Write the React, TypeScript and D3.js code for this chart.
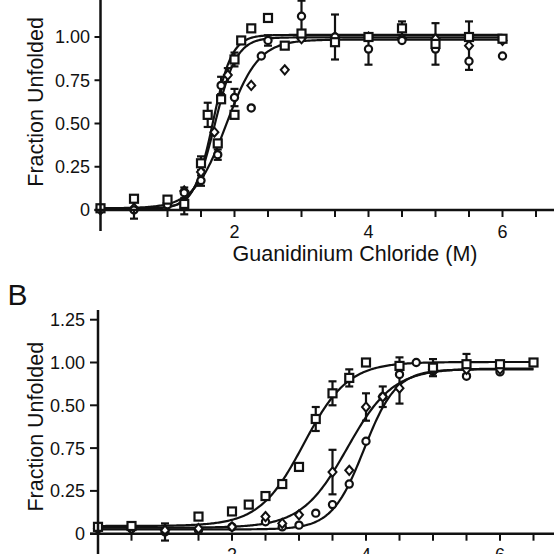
import React, { useEffect } from "react";
import * as d3 from "d3";

type Pt = [number, number, number?];

// ---------- Panel A (top) data ----------
const topSquares: Pt[] = [
  [0, 0.01], [0.5, 0.065], [1.0, 0.06], [1.25, 0.035, 0.06], [1.5, 0.27, 0.04],
  [1.6, 0.55, 0.07], [1.75, 0.385], [1.8, 0.64], [2.0, 0.55], [2.0, 0.87, 0.04],
  [2.1, 0.98], [2.25, 1.05], [2.5, 1.11], [2.75, 0.95], [3.0, 1.02],
  [3.5, 0.97], [4.0, 1.0], [4.5, 1.05, 0.04], [5.0, 0.96, 0.12], [5.5, 1.0], [6.0, 0.99],
];
const topCircles: Pt[] = [
  [0, 0.01], [0.5, 0.0, 0.05], [1.0, 0.03], [1.25, 0.1, 0.03], [1.5, 0.17, 0.03],
  [1.75, 0.32, 0.03], [1.8, 0.72, 0.05], [2.0, 0.65, 0.05], [2.25, 0.59], [2.4, 0.89],
  [2.5, 0.98, 0.03], [3.0, 1.12, 0.09], [3.5, 1.0, 0.13], [4.0, 0.93, 0.09], [4.5, 0.98],
  [5.0, 0.93], [5.5, 0.86], [6.0, 0.89],
];
const topDiamonds: Pt[] = [
  [0, 0.0], [0.5, 0.01], [1.0, 0.04], [1.25, 0.11], [1.5, 0.22], [1.7, 0.45],
  [1.9, 0.78, 0.04], [2.25, 0.72], [2.75, 0.81], [3.0, 0.99], [3.5, 1.0],
  [4.0, 1.0], [4.5, 0.99], [5.0, 0.99], [5.5, 0.95, 0.14], [6.0, 0.98],
];
// fitted curves: [bottom, top, midpoint, slope, xEnd]
const topFits: [number, number, number, number, number][] = [
  [0.01, 1.012, 1.68, 0.14, 6.0],
  [0.005, 0.998, 1.71, 0.16, 6.0],
  [0.01, 0.985, 1.88, 0.24, 6.0],
];

// ---------- Panel B data ----------
const bSquares: Pt[] = [
  [0, 0.04], [0.5, 0.045], [1.5, 0.1], [2.0, 0.13], [2.25, 0.17], [2.5, 0.22],
  [2.75, 0.29], [3.0, 0.39], [3.25, 0.67, 0.07], [3.5, 0.82, 0.07], [3.75, 0.91, 0.05],
  [4.0, 1.0], [4.5, 0.98, 0.05], [5.0, 0.97, 0.05], [5.5, 0.99, 0.06], [6.0, 0.99], [6.5, 1.0],
];
const bDiamonds: Pt[] = [
  [0, 0.03], [0.5, 0.03], [1.0, 0.02], [1.5, 0.03], [2.0, 0.04], [2.5, 0.1],
  [2.75, 0.06], [3.0, 0.11], [3.5, 0.36, 0.13], [3.75, 0.37], [4.0, 0.74, 0.08],
  [4.25, 0.8, 0.06], [4.5, 0.85, 0.09], [5.0, 0.96], [5.5, 0.96], [6.0, 0.96],
];
const bCircles: Pt[] = [
  [0, 0.03], [0.5, 0.03], [1.0, 0.01, 0.05], [1.5, 0.02], [2.0, 0.04], [2.5, 0.07],
  [2.75, 0.04], [3.0, 0.05], [3.25, 0.12], [3.5, 0.17], [3.75, 0.29], [4.0, 0.54],
  [4.25, 0.8], [4.5, 0.93], [4.75, 1.0], [5.0, 0.95], [5.5, 0.92], [6.0, 0.945],
];
const bFits: [number, number, number, number, number][] = [
  [0.045, 1.003, 3.07, 0.33, 6.5],
  [0.035, 0.965, 3.72, 0.34, 6.5],
  [0.025, 0.96, 3.97, 0.24, 6.5],
];

// ---------- axes ----------
const xMinorTicks = [0.5, 1, 1.5, 2, 2.5, 3, 3.5, 4, 4.5, 5, 5.5, 6, 6.5];
const xLabelTicks = [2, 4, 6];
const yTickValues = [0, 0.25, 0.5, 0.75, 1, 1.25];
const topYTickLabels = ["0", "0.25", "0.50", "0.75", "1.00", "1.25"];
const bYTickLabels = ["0", "0.25", "0.75", "0.50", "1.00", "1.25"];

const FONT = "'Liberation Sans', Arial, Helvetica, sans-serif";
const INK = "#111";

type Shape = "square" | "circle" | "diamond";

function Marker({ x, y, shape }: { x: number; y: number; shape: Shape }) {
  if (shape === "square")
    return <rect x={x - 4} y={y - 4} width={8} height={8} fill="#fff" stroke={INK} strokeWidth={2.2} />;
  if (shape === "circle")
    return <circle cx={x} cy={y} r={3.6} fill="#fff" stroke={INK} strokeWidth={2.2} />;
  return (
    <path d={`M${x},${y - 4.6}L${x + 4},${y}L${x},${y + 4.6}L${x - 4},${y}Z`} fill="#fff" stroke={INK} strokeWidth={2} />
  );
}

interface PanelProps {
  x0: number;
  y0: number;
  y125: number;
  unit: number;
  yAxisTop: number;
  yAxisBottom: number;
  tickLen: number;
  labelX: number;
  yLabels: string[];
  series: { pts: Pt[]; shape: Shape }[];
  fits: [number, number, number, number, number][];
  showTitleX: boolean;
}

function Panel(p: PanelProps) {
  const x = d3.scaleLinear().domain([0, 6.8]).range([p.x0, p.x0 + 6.8 * p.unit]);
  const y = d3.scaleLinear().domain([0, 1.25]).range([p.y0, p.y125]);

  const fitPaths = p.fits.map(([b, t, m, s, xe]) => {
    const xs = d3.range(0, xe + 0.0001, 0.02);
    const l = d3
      .line<number>()
      .x((d) => x(d))
      .y((d) => y(b + (t - b) / (1 + Math.exp((m - d) / s))));
    return l(xs) as string;
  });

  return (
    <g fontFamily={FONT} fill={INK}>
      {fitPaths.map((d, i) => (
        <path key={"f" + i} d={d} fill="none" stroke={INK} strokeWidth={2.2} />
      ))}
      {p.series.map((s, si) =>
        s.pts
          .filter((d) => d[2] !== undefined)
          .map((d, i) => {
            const cx = x(d[0]);
            const yt = y(d[1] + (d[2] as number));
            const yb = y(d[1] - (d[2] as number));
            return (
              <g key={`e${si}-${i}`} stroke={INK} strokeWidth={2.2}>
                <line x1={cx} x2={cx} y1={yt} y2={yb} />
                <line x1={cx - 4} x2={cx + 4} y1={yt} y2={yt} />
                <line x1={cx - 4} x2={cx + 4} y1={yb} y2={yb} />
              </g>
            );
          })
      )}
      {p.series.map((s, si) =>
        s.pts.map((d, i) => <Marker key={`m${si}-${i}`} x={x(d[0])} y={y(d[1])} shape={s.shape} />)
      )}
      <line x1={p.x0} x2={p.x0} y1={p.yAxisTop} y2={p.yAxisBottom} stroke={INK} strokeWidth={2.5} />
      <line x1={p.x0 - p.tickLen} x2={560} y1={p.y0} y2={p.y0} stroke={INK} strokeWidth={2.5} />
      {yTickValues.map((v, i) => (
        <g key={"yt" + i}>
          <line x1={p.x0 - p.tickLen} x2={p.x0} y1={y(v)} y2={y(v)} stroke={INK} strokeWidth={2} />
          <text x={p.labelX} y={y(v)} dy="0.36em" textAnchor="end" fontSize={18}>
            {p.yLabels[i]}
          </text>
        </g>
      ))}
      {xMinorTicks.map((v) => (
        <line key={"xt" + v} x1={x(v)} x2={x(v)} y1={p.y0} y2={p.y0 + 7} stroke={INK} strokeWidth={2} />
      ))}
      {xLabelTicks.map((v) => (
        <text key={"xl" + v} x={x(v)} y={p.y0 + 27.5} textAnchor="middle" fontSize={18}>
          {v}
        </text>
      ))}
      <text
        transform={`translate(43,${(p.y0 + p.y125) / 2}) rotate(-90)`}
        textAnchor="middle"
        fontSize={21.5}
      >
        Fraction Unfolded
      </text>
      {p.showTitleX && (
        <text x={355} y={p.y0 + 51} textAnchor="middle" fontSize={21.5}>
          Guanidinium Chloride (M)
        </text>
      )}
    </g>
  );
}

export default function App() {
  useEffect(() => {
    document.body.style.margin = "0";
  }, []);
  return (
    <div style={{ position: "absolute", left: 0, top: 0, width: 554, height: 554, background: "#fff" }}>
      <svg width={554} height={554} viewBox="0 0 554 554" style={{ display: "block" }}>
        <rect width={554} height={554} fill="#fff" />
        <Panel
          x0={100.5}
          y0={210}
          y125={-6.25}
          unit={67}
          yAxisTop={-10}
          yAxisBottom={231}
          tickLen={6}
          labelX={90}
          yLabels={topYTickLabels}
          series={[
            { pts: topDiamonds, shape: "diamond" },
            { pts: topCircles, shape: "circle" },
            { pts: topSquares, shape: "square" },
          ]}
          fits={topFits}
          showTitleX={true}
        />
        <text x={7.5} y={305} fontFamily={FONT} fontSize={30} fill={INK}>
          B
        </text>
        <Panel
          x0={98}
          y0={533.7}
          y125={319.7}
          unit={67}
          yAxisTop={310}
          yAxisBottom={560}
          tickLen={8}
          labelX={85}
          yLabels={bYTickLabels}
          series={[
            { pts: bCircles, shape: "circle" },
            { pts: bDiamonds, shape: "diamond" },
            { pts: bSquares, shape: "square" },
          ]}
          fits={bFits}
          showTitleX={false}
        />
      </svg>
    </div>
  );
}
